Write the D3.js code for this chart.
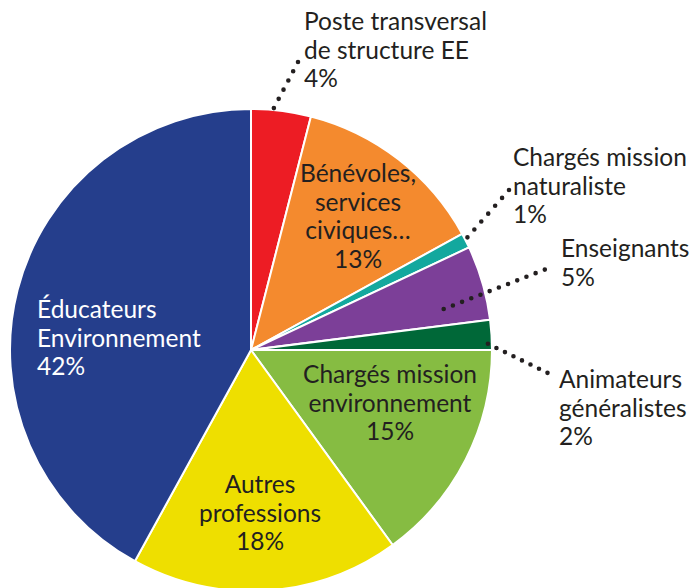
<!DOCTYPE html>
<html>
<head>
<meta charset="utf-8">
<script src="https://cdn.jsdelivr.net/npm/d3@7"></script>
<style>
  html, body { margin: 0; padding: 0; background: #fff; }
  svg { display: block; }
</style>
</head>
<body>
<div id="chart"></div>
<script>
// Data, clockwise from 12 o'clock
const categories = [
  'Poste transversal de structure EE',
  'Bénévoles, services civiques…',
  'Chargés mission naturaliste',
  'Enseignants',
  'Animateurs généralistes',
  'Chargés mission environnement',
  'Autres professions',
  'Éducateurs Environnement'
];
const shares = [4, 13, 1, 5, 2, 15, 18, 42];
const colors = ['#ed1c24', '#f48a2e', '#13a89e', '#7c3f98', '#006838', '#86bc42', '#eedf00', '#253e8c'];
const labelLines = [
  ['Poste transversal', 'de structure EE', '4%'],
  ['Bénévoles,', 'services', 'civiques…', '13%'],
  ['Chargés mission', 'naturaliste', '1%'],
  ['Enseignants', '5%'],
  ['Animateurs', 'généralistes', '2%'],
  ['Chargés mission', 'environnement', '15%'],
  ['Autres', 'professions', '18%'],
  ['Éducateurs', 'Environnement', '42%']
];

const W = 694, H = 588;
const cx = 251, cy = 350, R = 241;
const lineH = 28.5;
const font = 'Lato, "Noto Sans", sans-serif';

// label placement: x, first baseline, anchor, text colour, optional leader
const layout = [
  { x: 304, y: 30, anchor: 'start', fill: '#231f20', leader: { deg: 5.4, r: 243, to: [298, 62] } },
  { x: 358, y: 182, anchor: 'middle', fill: '#231f20' },
  { x: 513, y: 166, anchor: 'start', fill: '#231f20', leader: { deg: 62.5, r: 244, to: [509, 190] } },
  { x: 561, y: 257, anchor: 'start', fill: '#231f20', leader: { deg: 78, r: 197, to: [554, 266] } },
  { x: 559, y: 388, anchor: 'start', fill: '#231f20', leader: { deg: 88.5, r: 237, to: [556, 377] } },
  { x: 390, y: 383, anchor: 'middle', fill: '#231f20' },
  { x: 260, y: 493, anchor: 'middle', fill: '#231f20' },
  { x: 37, y: 318, anchor: 'start', fill: '#ffffff' }
];

const data = categories.map((c, i) => ({ name: c, value: shares[i], color: colors[i], lines: labelLines[i], ...layout[i] }));

const svg = d3.select('#chart').append('svg')
  .attr('width', W).attr('height', H)
  .attr('viewBox', `0 0 ${W} ${H}`);

const pie = d3.pie().value(d => d.value).sort(null);
const arc = d3.arc().innerRadius(0).outerRadius(R);

const g = svg.append('g').attr('transform', `translate(${cx},${cy})`);

g.selectAll('path.slice').data(pie(data)).join('path')
  .attr('class', 'slice')
  .attr('d', arc)
  .attr('fill', d => d.data.color)
  .attr('stroke', '#fff')
  .attr('stroke-width', 2)
  .attr('stroke-linejoin', 'round');

// dotted leaders
const polar = (deg, r) => {
  const a = deg * Math.PI / 180;
  return [cx + r * Math.sin(a), cy - r * Math.cos(a)];
};
svg.selectAll('line.leader').data(data.filter(d => d.leader)).join('line')
  .attr('class', 'leader')
  .attr('x1', d => polar(d.leader.deg, d.leader.r)[0])
  .attr('y1', d => polar(d.leader.deg, d.leader.r)[1])
  .attr('x2', d => d.leader.to[0])
  .attr('y2', d => d.leader.to[1])
  .attr('stroke', '#231f20')
  .attr('stroke-width', 4.6)
  .attr('stroke-linecap', 'round')
  .attr('stroke-dasharray', function () {
    const len = this.getTotalLength();
    const n = Math.max(1, Math.round(len / 10));
    return `0 ${len / n}`;
  });

// labels
svg.selectAll('text.lbl').data(data).join('text')
  .attr('class', 'lbl')
  .attr('x', d => d.x)
  .attr('y', d => d.y)
  .attr('text-anchor', d => d.anchor)
  .attr('fill', d => d.fill)
  .attr('font-family', font)
  .attr('font-size', '24.5px')
  .selectAll('tspan').data(d => d.lines.map((t, i) => ({ t, i, x: d.x }))).join('tspan')
  .attr('x', d => d.x)
  .attr('dy', d => d.i === 0 ? 0 : lineH)
  .text(d => d.t);
</script>
</body>
</html>
